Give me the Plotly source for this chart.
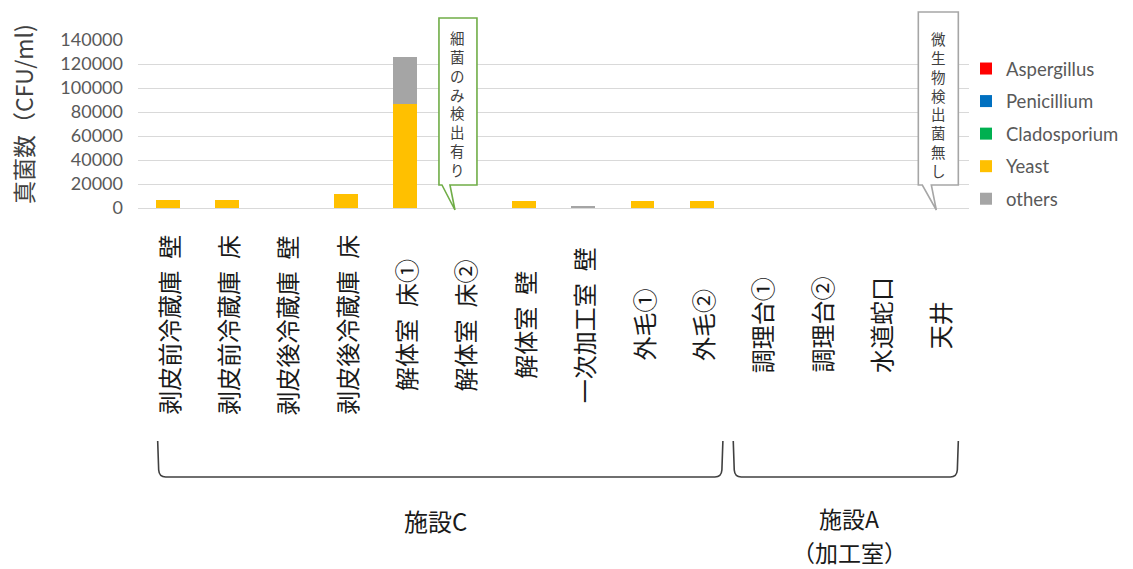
import plotly.graph_objects as go

# ---------------- data ----------------
categories = ["剥皮前冷蔵庫\u2002壁", "剥皮前冷蔵庫\u2002床", "剥皮後冷蔵庫\u2002壁", "剥皮後冷蔵庫\u2002床",
              "解体室\u2002床①", "解体室\u2002床②", "解体室\u2002壁", "一次加工室\u2002壁",
              "外毛①", "外毛②", "調理台①", "調理台②", "水道蛇口", "天井"]
aspergillus = [0, 0, 0, 0, 0, 0, 0, 0, 0, 0, 0, 0, 0, 0]
penicillium = [0, 0, 0, 0, 0, 0, 0, 0, 0, 0, 0, 0, 0, 0]
cladosporium = [0, 0, 0, 0, 0, 0, 0, 0, 0, 0, 0, 0, 0, 0]
yeast = [7000, 6800, 0, 12000, 86500, 0, 5800, 0, 5800, 5800, 0, 0, 0, 0]
others = [0, 0, 0, 0, 39000, 0, 0, 1200, 0, 0, 0, 0, 0, 0]
series_names = ["Aspergillus", "Penicillium", "Cladosporium", "Yeast", "others"]
series_colors = ["#FF0000", "#0070C0", "#00B050", "#FFC000", "#A5A5A5"]
y_ticks = [0, 20000, 40000, 60000, 80000, 100000, 120000, 140000]
y_title = "真菌数（CFU/ml)"
callout_bacteria = "細菌のみ検出有り"
callout_none = "微生物検出菌無し"
group_c = "施設C"
group_a = "施設A"
group_a_sub = "（加工室）"

# ---------------- geometry ----------------
W, H = 1133, 569
ML, MR, MT, MB = 138, 164, 40, 361
PW, PH = W - ML - MR, H - MT - MB
N = len(categories)
CW = PW / N


def xp(px):
    return (px - ML) / PW


def yp(py):
    return (MT + PH - py) / PH


def cat_px(i):
    return ML + (i + 0.5) * CW


def path(points):
    s = ""
    for cmd, pts in points:
        s += cmd + " ".join(f"{xp(a):.5f},{yp(b):.5f}" for a, b in pts) + " "
    return s


CJK = "Noto Sans CJK JP"
LAT = "Lato, Noto Sans CJK JP"

fig = go.Figure()
all_vals = [aspergillus, penicillium, cladosporium, yeast, others]
for name, col, vals in zip(series_names, series_colors, all_vals):
    fig.add_trace(go.Bar(x=categories, y=vals, name=name, marker_color=col,
                         marker_line_width=0, legendgroup=name))

shapes = []
annotations = []

# category labels (rotated, centred)
for c in categories:
    annotations.append(dict(x=c, xref="x", y=yp(325), yref="paper", text=c, textangle=-90,
                            showarrow=False, xanchor="center", yanchor="middle",
                            font=dict(family=CJK, size=24, color="#1a1a1a")))

# y title
annotations.append(dict(x=xp(23), xref="paper", y=yp(114), yref="paper", text=y_title,
                        textangle=-90, showarrow=False, xanchor="center", yanchor="middle",
                        font=dict(family=CJK, size=23, color="#404040")))


def callout(idx, dl, dr, top, bottom, t1, t2, tip, color, text, text_c):
    c = cat_px(idx)
    L, R = c + dl, c + dr
    pts = [("M", [(L, top)]), ("L", [(R, top)]), ("L", [(R, bottom)]), ("L", [(c + t2, bottom)]),
           ("L", [(c + tip, 210)]), ("L", [(c + t1, bottom)]), ("L", [(L, bottom)])]
    shapes.append(dict(type="path", xref="paper", yref="paper", path=path(pts) + "Z",
                       line=dict(color=color, width=1.6), fillcolor="white", layer="above"))
    annotations.append(dict(x=xp((L + R) / 2), xref="paper", y=yp(text_c), yref="paper",
                            text="<br>".join(list(text)), showarrow=False, xanchor="center",
                            yanchor="middle", font=dict(family=CJK, size=14.5, color="#404040")))


callout(5, -25.5, 12.5, 18, 185, -22.5, -14.5, -9.5, "#70AD47", callout_bacteria, 103)
callout(13, -21, 19, 12, 185, -17, -8, -3, "#A6A6A6", callout_none, 104)


# brackets
def bracket(x0, x1):
    top, bot = 441, 477
    pts = [("M", [(x0, top)]), ("L", [(x0 + 1, bot - 7)]), ("Q", [(x0 + 1.5, bot), (x0 + 8, bot)]),
           ("L", [(x1 - 8, bot)]), ("Q", [(x1 - 1.5, bot), (x1 - 1, bot - 7)]), ("L", [(x1, top)])]
    shapes.append(dict(type="path", xref="paper", yref="paper", path=path(pts),
                       line=dict(color="#404040", width=1.6)))


bracket(cat_px(0) - 10, cat_px(9) + 21)
bracket(cat_px(10) - 28, cat_px(13) + 19)

for txt, gx, gy, fs in [(group_c, 435, 520, 24), (group_a, 849, 518, 23), (group_a_sub, 849, 552, 23)]:
    annotations.append(dict(x=xp(gx), xref="paper", y=yp(gy), yref="paper", text=txt,
                            showarrow=False, xanchor="center", yanchor="middle",
                            font=dict(family=CJK, size=fs, color="#1a1a1a")))

fig.update_layout(
    width=W, height=H, autosize=False,
    margin=dict(l=ML, r=MR, t=MT, b=MB, pad=0, autoexpand=False),
    paper_bgcolor="white", plot_bgcolor="white",
    barmode="stack", bargap=0.6,
    showlegend=True,
    legend=dict(x=xp(966), xanchor="left", y=yp(50), yanchor="top", traceorder="grouped",
                tracegroupgap=5.5, font=dict(family=LAT, size=18.5, color="#595959"),
                bgcolor="rgba(0,0,0,0)"),
    shapes=shapes, annotations=annotations,
    xaxis=dict(type="category", showticklabels=False, showgrid=False, zeroline=False,
               showline=False, ticks="", range=[-0.5, N - 0.5], fixedrange=True),
    yaxis=dict(range=[0, 140000], tickvals=y_ticks, tickformat="d", showgrid=True,
               gridcolor="#D9D9D9", gridwidth=1.2, zeroline=True, zerolinecolor="#D9D9D9",
               zerolinewidth=1.2, showline=False, ticks="", ticklabelstandoff=14,
               tickfont=dict(family=LAT, size=18, color="#595959"), fixedrange=True),
)
try:
    fig.update_layout(legend_maxheight=400)
except Exception:
    pass

fig.write_html("out.html")
